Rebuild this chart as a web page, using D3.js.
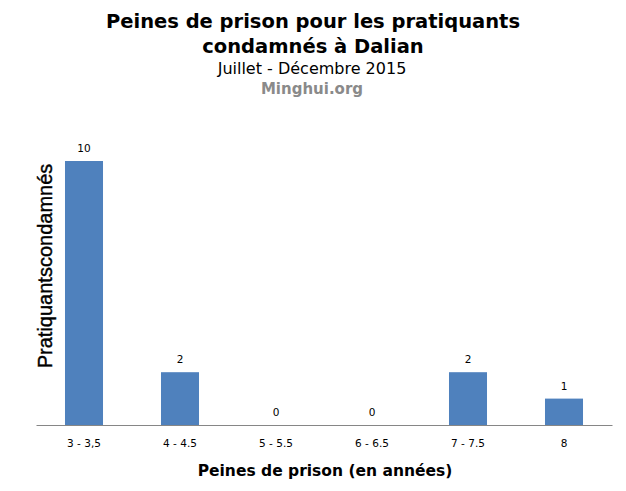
<!DOCTYPE html>
<html>
<head>
<meta charset="utf-8">
<script src="https://cdn.jsdelivr.net/npm/d3@7"></script>
<style>
  body { margin: 0; background: #fff; }
  text { font-family: "DejaVu Sans", Verdana, sans-serif; }
</style>
</head>
<body>
<div id="chart-area"></div>
<script>
// data
var categories = ['3 - 3,5', '4 - 4.5', '5 - 5.5', '6 - 6.5', '7 - 7.5', '8'];
var counts = [10, 2, 0, 0, 2, 1];
var titleLines = ['Peines de prison pour les pratiquants', 'condamnés à Dalian'];
var subtitle = 'Juillet - Décembre 2015';
var source = 'Minghui.org';

var width = 626, height = 491;
var svg = d3.select('#chart-area')
    .append('svg')
    .attr('width', width)
    .attr('height', height);

var data = categories.map(function (c, i) {
    return { cat: c, value: counts[i] };
});

var x = d3.scaleBand()
    .domain(categories)
    .range([36, 612])
    .paddingInner(0.604)
    .paddingOuter(0.302);

var y = d3.scaleLinear()
    .domain([0, 10])
    .range([425, 161]);

// titles
svg.selectAll('.title')
    .data(titleLines)
    .enter()
    .append('text')
    .attr('class', 'title')
    .attr('x', 313)
    .attr('y', function (d, i) { return 28 + i * 25; })
    .attr('text-anchor', 'middle')
    .style('font-size', '19.5px')
    .style('font-weight', 'bold')
    .text(function (d) { return d; });

svg.append('text')
    .attr('x', 312)
    .attr('y', 74)
    .attr('text-anchor', 'middle')
    .style('font-size', '16px')
    .text(subtitle);

svg.append('text')
    .attr('x', 312)
    .attr('y', 94)
    .attr('text-anchor', 'middle')
    .style('font-size', '15px')
    .style('font-weight', 'bold')
    .style('fill', '#8a8a8a')
    .text(source);

// bars
svg.selectAll('rect')
    .data(data)
    .enter()
    .append('rect')
    .attr('x', function (d) { return x(d.cat); })
    .attr('y', function (d) { return y(d.value); })
    .attr('width', x.bandwidth())
    .attr('height', function (d) { return y(0) - y(d.value); })
    .attr('fill', '#4f81bd');

// value labels
svg.selectAll('.val')
    .data(data)
    .enter()
    .append('text')
    .attr('class', 'val')
    .attr('x', function (d) { return x(d.cat) + x.bandwidth() / 2; })
    .attr('y', function (d) { return y(d.value) - 9; })
    .attr('text-anchor', 'middle')
    .style('font-size', '10.5px')
    .text(function (d) { return d.value; });

// x axis
var xAxis = d3.axisBottom(x)
    .tickSize(0)
    .tickPadding(15)
    .tickSizeOuter(0);
var gx = svg.append('g')
    .attr('transform', 'translate(0,425)')
    .call(xAxis);
gx.select('.domain').attr('stroke', '#868686');
gx.selectAll('text')
    .style('font-family', '"DejaVu Sans", Verdana, sans-serif')
    .style('font-size', '10.5px')
    .style('fill', '#000');

// axis titles
svg.append('text')
    .attr('x', 325)
    .attr('y', 476)
    .attr('text-anchor', 'middle')
    .style('font-size', '15.5px')
    .style('font-weight', 'bold')
    .text('Peines de prison (en années)');

svg.append('text')
    .attr('transform', 'translate(52,266) rotate(-90)')
    .attr('text-anchor', 'middle')
    .style('font-family', '"Liberation Sans", Arial, sans-serif')
    .style('font-size', '20px')
    .style('stroke', '#000')
    .style('stroke-width', '0.4px')
    .text('Pratiquantscondamnés');
</script>
</body>
</html>
